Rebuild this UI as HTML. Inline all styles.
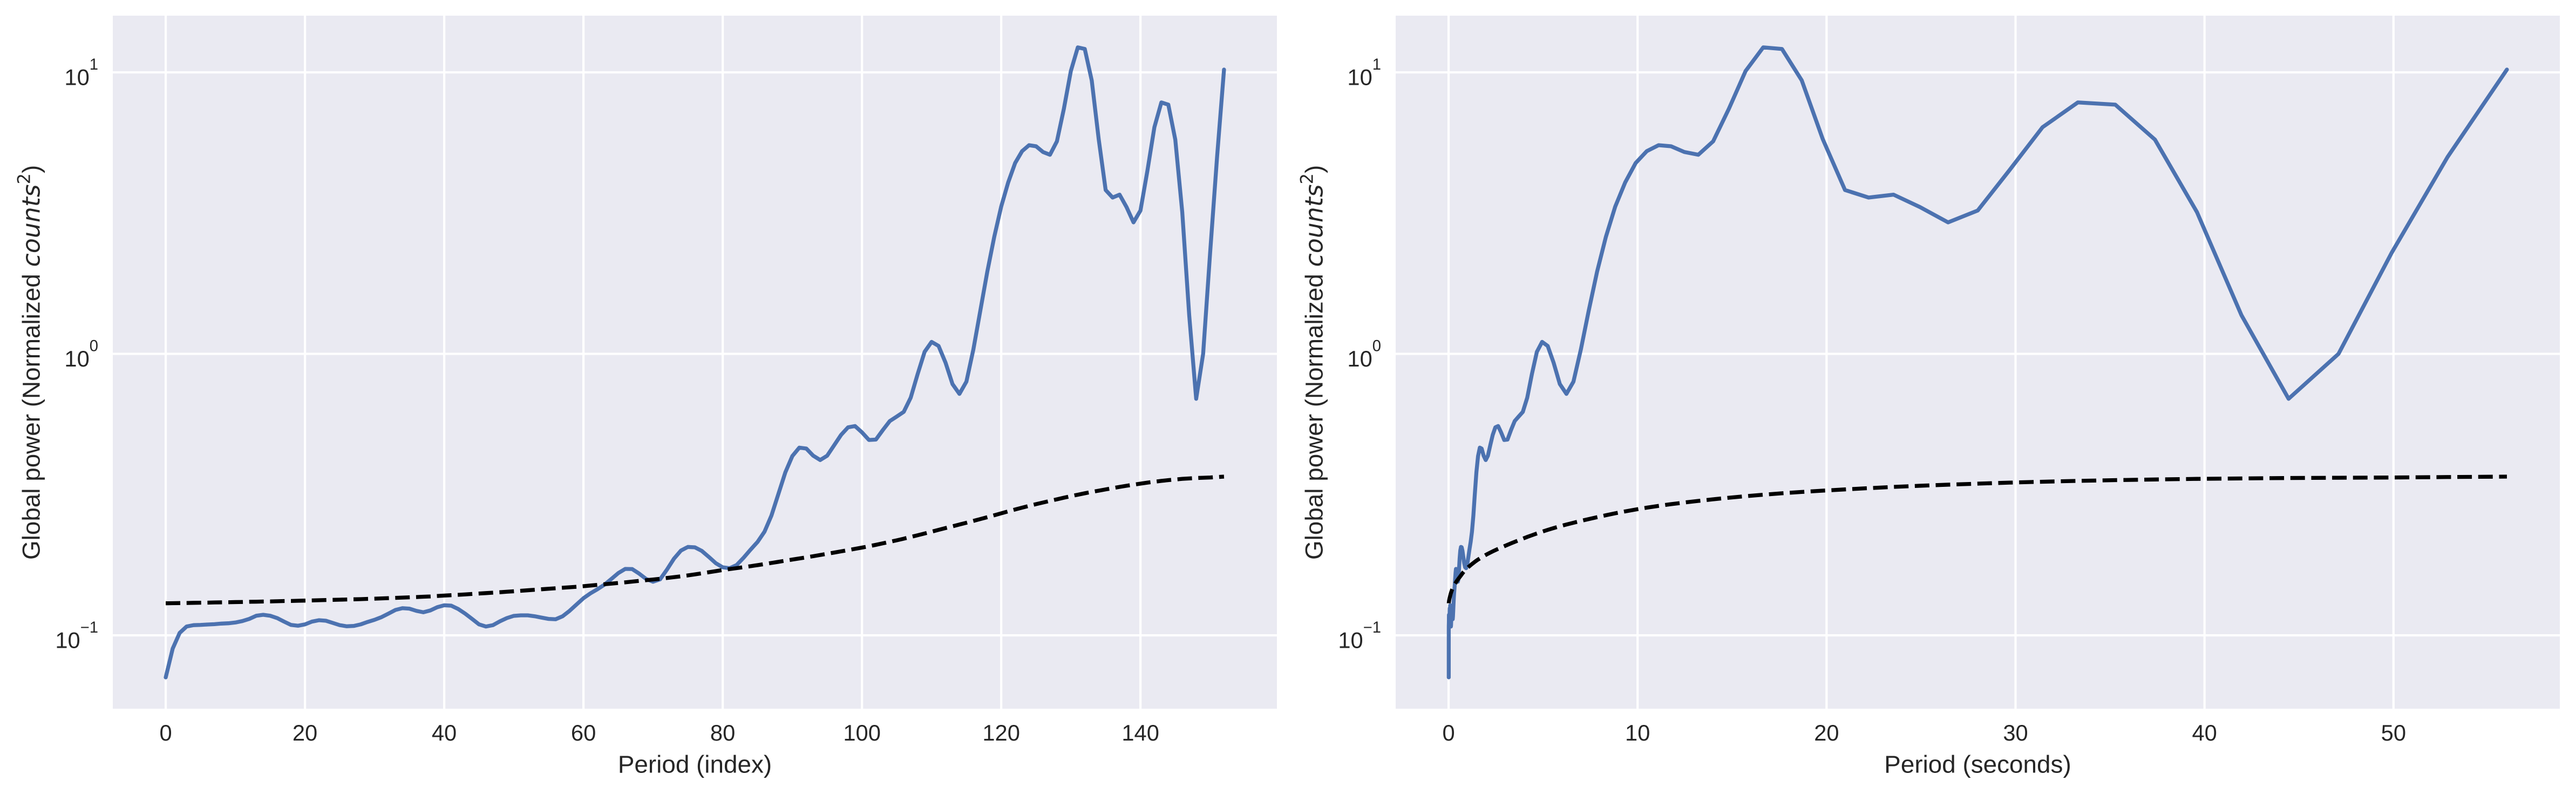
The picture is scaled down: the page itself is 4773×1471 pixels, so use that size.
<!DOCTYPE html>
<html lang="en">
<head>
<meta charset="utf-8">
<title>Global wavelet power spectrum</title>
<style>
html,body{margin:0;padding:0;background:#fff;}
svg{display:block;}
text{font-family:"Liberation Sans",Arial,sans-serif;fill:#262626;}
.math{font-family:"DejaVu Sans",sans-serif;font-style:italic;}
</style>
</head>
<body>
<svg id="chart" xmlns="http://www.w3.org/2000/svg" width="4773" height="1471" viewBox="0 0 4773 1471"></svg>
<script>
// Global wavelet power at each period index (shared by both panels)
const globalPower = [
0.0709,0.0897,0.1020,0.1075,0.1087,0.1089,0.1093,0.1096,0.1101,0.1104,
0.1111,0.1124,0.1144,0.1174,0.1183,0.1174,0.1152,0.1119,0.1089,0.1082,
0.1094,0.1119,0.1132,0.1127,0.1107,0.1087,0.1077,0.1080,0.1094,0.1116,
0.1136,0.1161,0.1195,0.1231,0.1249,0.1244,0.1222,0.1208,0.1226,0.1259,
0.1279,0.1275,0.1241,0.1195,0.1144,0.1094,0.1075,0.1087,0.1122,0.1152,
0.1173,0.1178,0.1178,0.1169,0.1156,0.1144,0.1141,0.1169,0.1222,0.1287,
0.1355,0.1410,0.1458,0.1513,0.1586,0.1664,0.1722,0.1720,0.1657,0.1586,
0.1551,0.1581,0.1714,0.1873,0.2001,0.2061,0.2055,0.1995,0.1900,0.1805,
0.1745,0.1732,0.1778,0.1887,0.2016,0.2147,0.2335,0.2666,0.3181,0.3797,
0.4334,0.4644,0.4610,0.4347,0.4196,0.4347,0.4733,0.5154,0.5483,0.5541,
0.5262,0.4945,0.4961,0.5363,0.5773,0.5989,0.6223,0.6989,0.8482,1.017,
1.103,1.067,0.9309,0.7813,0.7209,0.7969,1.037,1.425,1.958,2.606,
3.338,4.064,4.764,5.251,5.512,5.464,5.214,5.098,5.69,7.427,
10.11,12.27,12.11,9.363,5.794,3.82,3.592,3.678,3.322,2.932,
3.231,4.48,6.385,7.82,7.68,5.77,3.19,1.372,0.6925,1.0,
2.279,5.0,10.23
];
// Significance level at each period index (dashed curve)
const significance = [
.1300,.1301,.1302,.1303,.1305,.1306,.1307,.1309,.1310,.1311,
.1313,.1314,.1316,.1317,.1319,.1320,.1322,.1324,.1325,.1327,
.1329,.1331,.1333,.1335,.1337,.1339,.1341,.1343,.1345,.1348,
.1350,.1353,.1356,.1359,.1362,.1365,.1368,.1372,.1375,.1380,
.1385,.1389,.1393,.1398,.1403,.1408,.1413,.1418,.1423,.1429,
.1434,.1440,.1446,.1452,.1458,.1464,.1470,.1476,.1482,.1488,
.1495,.1503,.1511,.1519,.1527,.1535,.1543,.1552,.1561,.1570,
.1579,.1589,.1599,.1610,.1621,.1633,.1647,.1661,.1676,.1691,
.1707,.1720,.1733,.1747,.1761,.1776,.1792,.1808,.1825,.1842,
.1859,.1876,.1893,.1911,.1930,.1949,.1968,.1988,.2008,.2029,
.2050,.2073,.2097,.2123,.2149,.2176,.2205,.2237,.2268,.2301,
.2335,.2370,.2405,.2440,.2476,.2512,.2550,.2589,.2629,.2671,
.2714,.2757,.2800,.2842,.2884,.2925,.2964,.3004,.3043,.3083,
.3122,.3160,.3197,.3232,.3266,.3300,.3334,.3368,.3400,.3430,
.3459,.3488,.3514,.3538,.3560,.3579,.3597,.3610,.3622,.3630,
.3637,.3651,.3664
];
// Period in seconds for each index (right panel x values)
const periodSeconds = [
.008613,.009125,.009668,.010243,.010852,.011497,.012180,.012904,
.013672,.014485,.015346,.016259,.017226,.018250,.019335,.020485,.021704,.022993,.024361,.025809,
.027344,.028970,.030692,.032518,.034451,.036500,.038670,.040971,.043407,.045986,.048722,.051618,
.054688,.057939,.061385,.065035,.068902,.073000,.077340,.081941,.086814,.091973,.097443,.103236,
.109375,.115879,.122770,.130070,.137805,.14600,.15468,.16388,.17363,.18395,.19489,.20647,
.21875,.23176,.24554,.26014,.27561,.29200,.30936,.32777,.34726,.36789,.38977,.41295,
.43750,.46352,.49108,.52028,.55122,.58400,.61872,.65553,.69452,.73578,.77955,.82589,
.87500,.92703,.98216,1.0406,1.1024,1.1680,1.2374,1.3111,1.3890,1.4716,1.5591,1.6518,
1.7500,1.8541,1.9643,2.0811,2.2049,2.3360,2.4749,2.6221,2.7781,2.9431,3.1182,3.3036,
3.5000,3.7081,3.9286,4.1623,4.4098,4.6720,4.9498,5.2443,5.5561,5.8863,6.2364,6.6071,
7.0000,7.4163,7.8573,8.3245,8.8195,9.3440,9.8995,10.4885,11.1123,11.7725,12.4728,13.2143,
14.000,14.833,15.715,16.649,17.639,18.688,19.799,20.977,22.225,23.545,24.946,26.429,
28.00,29.665,31.429,33.298,35.278,37.376,39.598,41.954,44.449,47.09,49.891,52.857,
56.0
];
const xTicksIndex = [0,20,40,60,80,100,120,140];
const xTicksSeconds = [0,10,20,30,40,50];
const yTickValues = [0.1,1,10];
const yTickExponents = ["\u22121","0","1"];

const NS = "http://www.w3.org/2000/svg";
const svg = document.getElementById("chart");
const TOP = 29, BOTTOM = 1313;
const yLogMin = -1.2606, yLogMax = 1.2015;

function yScale(v){
  return BOTTOM - (Math.log10(v) - yLogMin) / (yLogMax - yLogMin) * (BOTTOM - TOP);
}
function linearScale(d0, d1, r0, r1){
  return function(v){ return r0 + (v - d0) / (d1 - d0) * (r1 - r0); };
}
function mk(tag, attrs, parent){
  const el = document.createElementNS(NS, tag);
  for (const k in attrs) el.setAttribute(k, attrs[k]);
  parent.appendChild(el);
  return el;
}
function linePath(xs, ys, xScale){
  let d = "";
  for (let i = 0; i < ys.length; i++){
    d += (i ? "L" : "M") + xScale(xs[i]).toFixed(2) + " " + yScale(ys[i]).toFixed(2);
  }
  return d;
}
function drawPanel(key, left, right, xMin, xMax, xValues, xTicks, xTitle){
  const xScale = linearScale(xMin, xMax, left, right);
  const g = mk("g", {}, svg);
  
  

  const bg = mk("rect", {x:left, y:TOP, width:right-left, height:BOTTOM-TOP, fill:"#EAEAF2"}, g);
  
  

  xTicks.forEach(function(t){
    const px = xScale(t);
    const gl = mk("line", {x1:px, x2:px, y1:TOP, y2:BOTTOM, stroke:"#fff", "stroke-width":4.17}, g);
    
    
    const lb = mk("text", {x:px, y:1372, "text-anchor":"middle", "font-size":41.67}, g);
    
    
    lb.textContent = String(t);
  });

  yTickValues.forEach(function(v, idx){
    const py = yScale(v);
    const gl = mk("line", {x1:left, x2:right, y1:py, y2:py, stroke:"#fff", "stroke-width":4.17}, g);
    
    
    const lb = mk("text", {x:left-27, y:py+23.5, "text-anchor":"end", "font-size":41.67}, g);
    
    
    const base = mk("tspan", {}, lb);
    base.textContent = "10";
    const ex = mk("tspan", {dy:-28.8, "font-size":29.2}, lb);
    ex.textContent = yTickExponents[idx];
  });

  const power = mk("path", {d:linePath(xValues, globalPower, xScale), fill:"none", stroke:"#4C72B0",
    "stroke-width":7.29, "stroke-linecap":"round", "stroke-linejoin":"round"}, g);
  
  

  const sig = mk("path", {d:linePath(xValues, significance, xScale), fill:"none", stroke:"#000",
    "stroke-width":7.29, "stroke-dasharray":"27 11.67", "stroke-linecap":"butt", "stroke-linejoin":"round"}, g);
  
  

  const xt = mk("text", {x:(left+right)/2, y:1431.7, "text-anchor":"middle", "font-size":45.83}, g);
  
  
  xt.textContent = xTitle;

  const yt = mk("text", {transform:"translate(" + (left-135.6) + ",1037) rotate(-90)", "font-size":45.83}, g);
  
  
  yt.setAttribute('xml:space', 'preserve');
  yt.style.whiteSpace = "pre";
  const t1 = mk("tspan", {}, yt);
  t1.textContent = "Global power (Normalized ";
  const t2 = mk("tspan", {class:"math"}, yt);
  t2.textContent = "counts";
  const t3 = mk("tspan", {dy:-18, "font-size":32, style:'font-family:"DejaVu Sans",sans-serif'}, yt);
  t3.textContent = "2";
  const t4 = mk("tspan", {dy:18}, yt);
  t4.textContent = ")";
}

const indexValues = [];
for (let i = 0; i < globalPower.length; i++) indexValues.push(i);

drawPanel("index", 209, 2366, -7.6, 159.6, indexValues, xTicksIndex, "Period (index)");
drawPanel("seconds", 2586, 4743, -2.8, 58.8, periodSeconds, xTicksSeconds, "Period (seconds)");
</script>
</body>
</html>
